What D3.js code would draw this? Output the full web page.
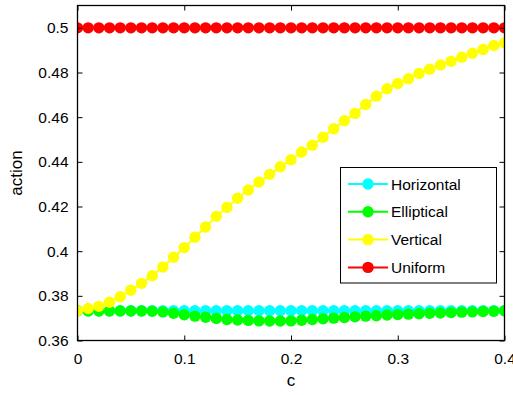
<!DOCTYPE html>
<html>
<head>
<meta charset="utf-8">
<script src="https://cdn.jsdelivr.net/npm/d3@7"></script>
<style>
  html, body { margin: 0; padding: 0; background: #fff; }
  svg { display: block; font-family: "Liberation Sans", Arial, Helvetica, sans-serif; }
</style>
</head>
<body>
<svg id="chart" width="513" height="395"></svg>
<script>
// c values: 0, 0.01, ..., 0.40
const cValues = [0.00, 0.01, 0.02, 0.03, 0.04, 0.05, 0.06, 0.07, 0.08, 0.09,
                 0.10, 0.11, 0.12, 0.13, 0.14, 0.15, 0.16, 0.17, 0.18, 0.19,
                 0.20, 0.21, 0.22, 0.23, 0.24, 0.25, 0.26, 0.27, 0.28, 0.29,
                 0.30, 0.31, 0.32, 0.33, 0.34, 0.35, 0.36, 0.37, 0.38, 0.39, 0.40];

const horizontal = [0.3733, 0.3733, 0.3733, 0.3733, 0.3733, 0.3733, 0.3733, 0.3733, 0.3733, 0.3733,
                    0.3733, 0.3733, 0.3733, 0.3733, 0.3733, 0.3733, 0.3733, 0.3733, 0.3733, 0.3733,
                    0.3733, 0.3733, 0.3733, 0.3733, 0.3733, 0.3733, 0.3733, 0.3733, 0.3733, 0.3733,
                    0.3733, 0.3733, 0.3733, 0.3733, 0.3733, 0.3733, 0.3733, 0.3733, 0.3733, 0.3733, 0.3733];

const elliptical = [0.3733, 0.3732, 0.3732, 0.3732, 0.3732, 0.3732, 0.3732, 0.3731, 0.3728, 0.3722,
                    0.3715, 0.3709, 0.3704, 0.3699, 0.3694, 0.3692, 0.3690, 0.3688, 0.3687, 0.3687,
                    0.3688, 0.3691, 0.3694, 0.3697, 0.3700, 0.3703, 0.3706, 0.3709, 0.3711, 0.3714,
                    0.3716, 0.3718, 0.3720, 0.3722, 0.3723, 0.3725, 0.3727, 0.3728, 0.3730, 0.3731, 0.3733];

const vertical = [0.3733, 0.3743, 0.3753, 0.3771, 0.3796, 0.3825, 0.3856, 0.3890, 0.3929, 0.3973,
                  0.4016, 0.4062, 0.4108, 0.4156, 0.4196, 0.4237, 0.4274, 0.4310, 0.4344, 0.4378,
                  0.4409, 0.4444, 0.4474, 0.4510, 0.4548, 0.4584, 0.4617, 0.4657, 0.4694, 0.4727,
                  0.4751, 0.4772, 0.4796, 0.4815, 0.4834, 0.4850, 0.4868, 0.4886, 0.4903, 0.4921, 0.4933];

const uniform = [0.5, 0.5, 0.5, 0.5, 0.5, 0.5, 0.5, 0.5, 0.5, 0.5,
                 0.5, 0.5, 0.5, 0.5, 0.5, 0.5, 0.5, 0.5, 0.5, 0.5,
                 0.5, 0.5, 0.5, 0.5, 0.5, 0.5, 0.5, 0.5, 0.5, 0.5,
                 0.5, 0.5, 0.5, 0.5, 0.5, 0.5, 0.5, 0.5, 0.5, 0.5, 0.5];

const seriesNames = ["Horizontal", "Elliptical", "Vertical", "Uniform"];
const seriesColors = ["#00ffff", "#00ff00", "#ffff00", "#ff0000"];
const seriesValues = [horizontal, elliptical, vertical, uniform];

const xTicks = [0, 0.1, 0.2, 0.3, 0.4];
const xTickLabels = ["0", "0.1", "0.2", "0.3", "0.4"];
const yTicks = [0.36, 0.38, 0.40, 0.42, 0.44, 0.46, 0.48, 0.50];
const yTickLabels = ["0.36", "0.38", "0.4", "0.42", "0.44", "0.46", "0.48", "0.5"];

const svg = d3.select("#chart");
const plotLeft = 77.5, plotRight = 504.5, plotTop = 5.5, plotBottom = 340.5;

const x = d3.scaleLinear().domain([0, 0.4]).range([plotLeft, plotRight]);
const y = d3.scaleLinear().domain([0.36, 0.51]).range([plotBottom, plotTop]);

// clip markers to the axes box
svg.append("defs").append("clipPath").attr("id", "plotClip")
  .append("rect").attr("x", plotLeft).attr("y", plotTop)
  .attr("width", plotRight - plotLeft).attr("height", plotBottom - plotTop);

const plot = svg.append("g").attr("clip-path", "url(#plotClip)");

const line = d3.line().x(d => x(d[0])).y(d => y(d[1]));
const markerR = 5.7;

seriesValues.forEach((vals, i) => {
  const pts = cValues.map((c, k) => [c, vals[k]]);
  const g = plot.append("g");
  g.append("path").datum(pts)
    .attr("d", line)
    .attr("fill", "none")
    .attr("stroke", seriesColors[i])
    .attr("stroke-width", 2);
  g.selectAll("circle").data(pts).join("circle")
    .attr("cx", d => x(d[0]))
    .attr("cy", d => y(d[1]))
    .attr("r", markerR)
    .attr("fill", seriesColors[i]);
});

// axes with inward ticks on all four sides
const tickLen = 5;
const fontSize = 15.5;

const bottomAxis = d3.axisBottom(x).tickValues(xTicks)
  .tickFormat((d, i) => xTickLabels[i]).tickSizeInner(-tickLen).tickSizeOuter(0).tickPadding(12);
const topAxis = d3.axisTop(x).tickValues(xTicks).tickFormat("").tickSizeInner(-tickLen).tickSizeOuter(0);
const leftAxis = d3.axisLeft(y).tickValues(yTicks)
  .tickFormat((d, i) => yTickLabels[i]).tickSizeInner(-tickLen).tickSizeOuter(0).tickPadding(9);
const rightAxis = d3.axisRight(y).tickValues(yTicks).tickFormat("").tickSizeInner(-tickLen).tickSizeOuter(0);

function styleAxis(g) {
  g.select(".domain").remove();
  g.selectAll(".tick line").attr("stroke", "#000").attr("stroke-width", 1);
  g.selectAll(".tick text").attr("fill", "#000").attr("font-size", fontSize)
    .attr("font-family", '"Liberation Sans", Arial, sans-serif');
}

svg.append("g").attr("transform", `translate(0,${plotBottom})`).call(bottomAxis).call(styleAxis);
svg.append("g").attr("transform", `translate(0,${plotTop})`).call(topAxis).call(styleAxis);
svg.append("g").attr("transform", `translate(${plotLeft},0)`).call(leftAxis).call(styleAxis);
svg.append("g").attr("transform", `translate(${plotRight},0)`).call(rightAxis).call(styleAxis);

// frame
svg.append("rect")
  .attr("x", plotLeft).attr("y", plotTop)
  .attr("width", plotRight - plotLeft).attr("height", plotBottom - plotTop)
  .attr("fill", "none").attr("stroke", "#000").attr("stroke-width", 1.3);

// axis titles
svg.append("text")
  .attr("x", (plotLeft + plotRight) / 2).attr("y", 386)
  .attr("text-anchor", "middle").attr("font-size", 17).text("c");
svg.append("text")
  .attr("transform", `translate(22,${(plotTop + plotBottom) / 2}) rotate(-90)`)
  .attr("text-anchor", "middle").attr("font-size", 17).text("action");

// legend
const lg = svg.append("g");
lg.append("rect").attr("x", 340.5).attr("y", 167.5).attr("width", 156).attr("height", 115.5)
  .attr("fill", "#fff").attr("stroke", "#000").attr("stroke-width", 1);
seriesNames.forEach((name, i) => {
  const yy = 184 + i * 27.8;
  lg.append("line").attr("x1", 348).attr("x2", 388).attr("y1", yy).attr("y2", yy)
    .attr("stroke", seriesColors[i]).attr("stroke-width", 2);
  lg.append("circle").attr("cx", 368).attr("cy", yy).attr("r", markerR).attr("fill", seriesColors[i]);
  lg.append("text").attr("x", 391).attr("y", yy).attr("dy", "0.36em")
    .attr("font-size", fontSize).attr("fill", "#000").text(name);
});
</script>
</body>
</html>
